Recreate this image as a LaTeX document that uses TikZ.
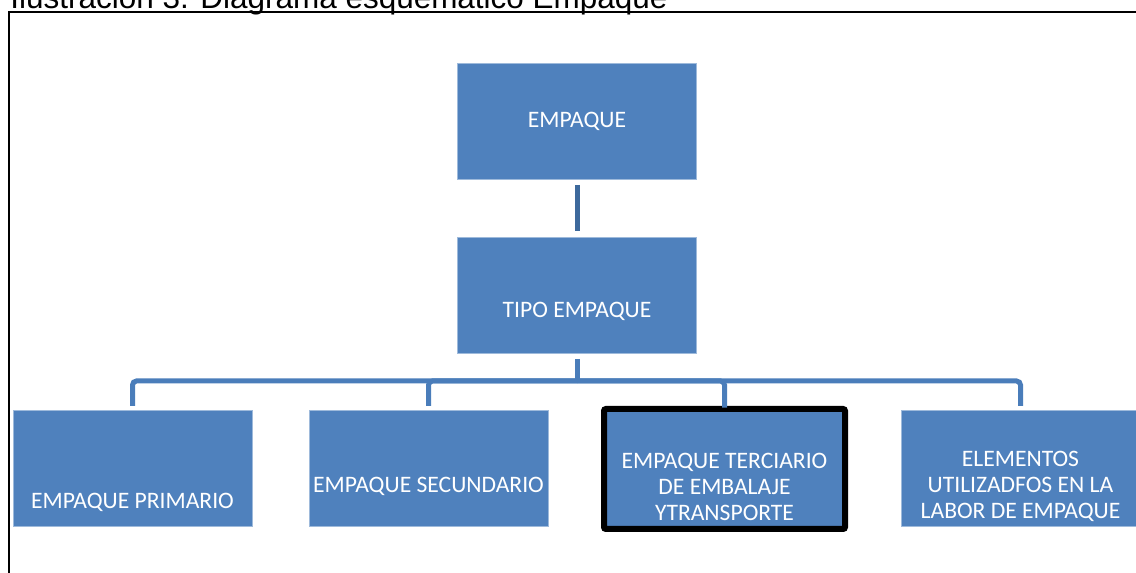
\documentclass[tikz,border=0pt]{standalone}
\usepackage{fontspec}
\setmainfont{Carlito}
\newfontfamily\titlefont{Liberation Sans}
\usetikzlibrary{positioning,calc}
\definecolor{boxblue}{RGB}{79,129,189}
\definecolor{lineblue}{RGB}{74,125,186}
\definecolor{darkline}{RGB}{61,105,156}

\begin{document}
\begin{tikzpicture}[x=0.75pt, y=-0.75pt, semithick]
		\tikzstyle{box}=[draw=boxblue!55!white, line width=0.5pt, fill=boxblue, minimum
		width=179.25pt, minimum height=87pt, inner sep=0pt, outer sep=0pt]
		\tikzstyle{txt}=[text=white, align=center, inner sep=0pt,
		font=\fontsize{17.7}{19.5}\selectfont]
		\tikzstyle{conn}=[draw=lineblue, line width=3.75pt]
		
		\useasboundingbox (0,0) rectangle (1136,573);
		
		% title and frame
		\node [anchor=base west, inner sep=0pt, font=\titlefont\fontsize{23.6}{28}\selectfont]
		(title) at (10,9) {Ilustración 3. Diagrama esquemático Empaque};
		\draw [line width=1.1pt] (9,12) rectangle (1150,590);
		
		\node [box] (empaque) at (577,121) {};
		\node [box] (tipo) at ($(empaque)+(0,174)$) {};
		
		\node [box] (primario) at ($(tipo)+(-444.5,173.5)$) {}; \node [box]
		(secundario) at ($(primario)+(296,0)$) {};
		\node [box, draw=black, line width=4.5pt, rounded corners=1.5pt, minimum
		width=180.75pt, minimum height=90pt] (terciario) at ($(secundario)+(296,0.5)$) {};
		\node [box] (elementos) at ($(primario)+(888,0)$) {};
		
		\node [txt] (empaque-t) at (empaque) {EMPAQUE};
		\node [txt] (tipo-t) at ($(tipo)+(0,16.5)$) {TIPO EMPAQUE};
		\node [txt] (primario-t) at ($(primario)+(0,34)$) {EMPAQUE PRIMARIO};
		\node [txt] (secundario-t) at ($(secundario)+(0,17.5)$) {EMPAQUE SECUNDARIO};
		\node [txt] (terciario-t) at ($(terciario)+(0,17.5)$) {EMPAQUE TERCIARIO\\DE
		EMBALAJE\\YTRANSPORTE};
		\node [txt] (elementos-t) at ($(elementos)+(0,17.5)$) {ELEMENTOS\\UTILIZADFOS EN
		LA\\LABOR DE EMPAQUE};
		
		\coordinate (bus) at (577,381);
		
		\draw [conn, draw=darkline, shorten <=4.5pt, shorten >=4.5pt] (empaque) to (tipo);
		\draw [conn, shorten <=4.5pt] (tipo) to (bus);
		\draw [conn, rounded corners=3pt, shorten >=3.5pt] (bus) -| (primario);
		\draw [conn, rounded corners=3pt, shorten >=3.5pt] (bus) -| (secundario);
		\draw [conn, rounded corners=3pt, shorten >=1pt] (bus) -| (terciario);
		\draw [conn, rounded corners=3pt, shorten >=3.5pt] (bus) -| (elementos);
	\end{tikzpicture}
\end{document}
